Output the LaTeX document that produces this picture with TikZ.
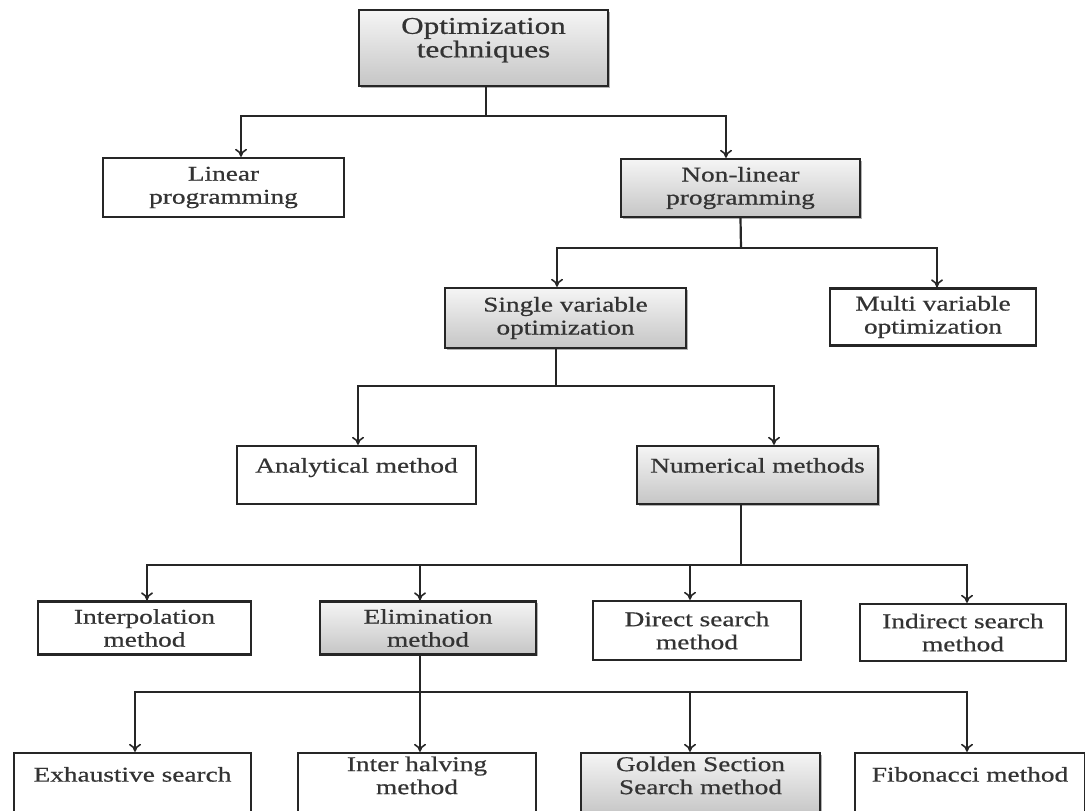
\documentclass[tikz,border=0pt]{standalone}
\usepackage{fontspec}
\setmainfont[FakeStretch=1.3,FakeBold=0.6]{Liberation Serif}
\usetikzlibrary{arrows.meta,shadows}
\newcommand{\liftup}[2]{\raisebox{#1}[\height][\depth]{\begin{tabular}{@{}c@{}}#2\end{tabular}}}
\begin{document}
\begin{tikzpicture}[x=1pt,y=-1pt,
  box/.style={draw=black!85, line width=2.4pt, fill=white, align=center, inner sep=2pt,
    font=\fontsize{21}{23}\selectfont, text=black!80},
  gbox/.style={box, top color=gray!8, bottom color=gray!45,
    drop shadow={shadow xshift=1.5pt, shadow yshift=-1.5pt, fill=black!60, opacity=.5}},
  conn/.style={draw=black!85, line width=2.2pt},
  arr/.style={conn, -{To[length=8pt,width=12pt,line width=1.6pt]}}
]
\useasboundingbox (0,0) rectangle (1085,811);
\fill[white] (0,0) rectangle (1085,811);

% nodes
\node[gbox, minimum width=249pt, minimum height=76pt, font=\fontsize{24}{23}\selectfont] (top) at (483.5,48) {\liftup{7pt}{Optimization\\techniques}};
\node[box,  minimum width=241pt, minimum height=59pt] (lin) at (223.5,187.5) {Linear\\programming};
\node[gbox, minimum width=239pt, minimum height=58pt] (nl)  at (740.5,188) {Non-linear\\programming};
\node[gbox, minimum width=241pt, minimum height=60pt] (sv)  at (565.5,318) {Single variable\\optimization};
\node[box,  minimum width=206pt, minimum height=57pt] (mv)  at (933,317) {Multi variable\\optimization};
\node[box,  minimum width=239pt, minimum height=58pt] (an)  at (356.5,475) {\liftup{7pt}{Analytical method}};
\node[gbox, minimum width=241pt, minimum height=58pt] (nm)  at (757.5,475) {\liftup{7pt}{Numerical methods}};
\node[box,  minimum width=213pt, minimum height=53pt] (ip)  at (144.5,628) {Interpolation\\method};
\node[gbox, minimum width=216pt, minimum height=53pt] (el)  at (428,628) {Elimination\\method};
\node[box,  minimum width=208pt, minimum height=59pt] (ds)  at (697,630.5) {Direct search\\method};
\node[box,  minimum width=206pt, minimum height=57pt] (id)  at (963,632.5) {Indirect search\\method};
\node[box,  minimum width=237pt, minimum height=62pt] (ex)  at (132.5,784) {\liftup{7pt}{Exhaustive search}};
\node[box,  minimum width=238pt, minimum height=62pt] (ih)  at (417,784) {\liftup{6pt}{Inter halving\\method}};
\node[gbox, minimum width=239pt, minimum height=62pt] (gs)  at (700.5,784) {\liftup{6pt}{Golden Section\\Search method}};
\node[box,  minimum width=230pt, minimum height=62pt] (fb)  at (970,784) {\liftup{7pt}{Fibonacci method}};

% bus points
\coordinate (b1) at (486,116);
\coordinate (b2) at (741,248);
\coordinate (b3) at (556,386);
\coordinate (b4) at (741,565);
\coordinate (b5) at (420,692);

% connectors
\draw[conn] ([xshift=2.5pt]top.south) -- (b1);
\draw[arr] (b1) -| ([xshift=17.5pt]lin.north);
\draw[arr] (b1) -| ([xshift=-14.5pt]nl.north);

\draw[conn] (nl.south) -- (b2);
\draw[arr] (b2) -| ([xshift=-8.5pt]sv.north);
\draw[arr] (b2) -| ([xshift=4pt]mv.north);

\draw[conn] ([xshift=-9.5pt]sv.south) -- (b3);
\draw[arr] (b3) -| ([xshift=1.5pt]an.north);
\draw[arr] (b3) -| ([xshift=16.5pt]nm.north);

\draw[conn] ([xshift=-16.5pt]nm.south) -- (b4);
\draw[arr] (b4) -| ([xshift=2.5pt]ip.north);
\draw[arr] (b4) -| ([xshift=-8pt]el.north);
\draw[arr] (b4) -| ([xshift=-7pt]ds.north);
\draw[arr] (b4) -| ([xshift=4pt]id.north);

\draw[conn] ([xshift=-8pt]el.south) -- (b5);
\draw[arr] (b5) -| ([xshift=2.5pt]ex.north);
\draw[arr] (b5) -| ([xshift=3pt]ih.north);
\draw[arr] (b5) -| ([xshift=-10.5pt]gs.north);
\draw[arr] (b5) -| ([xshift=-3pt]fb.north);
\end{tikzpicture}
\end{document}
